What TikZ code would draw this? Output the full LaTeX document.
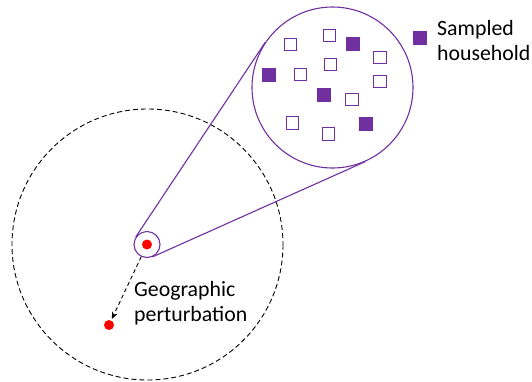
\documentclass[tikz,border=0pt]{standalone}
\usepackage{fontspec}
\setmainfont{Carlito}
\usetikzlibrary{arrows.meta}
\definecolor{purp}{RGB}{112,48,160}
\definecolor{dotred}{RGB}{255,0,0}
\tikzset{
  ring/.style={circle, draw=purp, line width=1.1pt, inner sep=0pt},
  house/.style={draw=purp, line width=1pt, minimum size=12.5pt, inner sep=0pt},
  sampled/.style={fill=purp, minimum size=14pt, inner sep=0pt},
  reddot/.style={circle, fill=dotred, minimum size=10pt, inner sep=0pt},
  label/.style={font=\fontsize{21.8}{25}\selectfont, align=left, inner sep=0pt, anchor=base west},
  tangent/.style={draw=purp, line width=1.1pt}
}
\begin{document}
\begin{tikzpicture}[x=1pt,y=-1pt]
\useasboundingbox (0,0) rectangle (532,381);

% perturbation radius
\draw[dashed, line width=0.9pt, dash pattern=on 5pt off 3pt] (147.5,244.5) circle (135.5);

% original location and magnified area
\node[ring, minimum size=26pt] (small) at (147,244.5) {};
\node[reddot] (orig) at (147,244.5) {};
\node[ring, minimum size=161pt] (big) at (332.5,87.5) {};
\draw[tangent] (small.146) -- (big.146);
\draw[tangent] (small.-66) -- (big.-66);

% households in the area
\node[house] (h1) at (290.7,44.3) {};
\node[house] (h2) at (329.3,35.3) {};
\node[house] (h3) at (380,57.3) {};
\node[house] (h4) at (330.3,64.3) {};
\node[house] (h5) at (300.7,74.3) {};
\node[house] (h6) at (380,81.7) {};
\node[house] (h7) at (352,99.3) {};
\node[house] (h8) at (292.7,123) {};
\node[house] (h9) at (328.7,134) {};
\node[sampled] (s1) at (352.7,44.3) {};
\node[sampled] (s2) at (268.7,74.7) {};
\node[sampled] (s3) at (324,95) {};
\node[sampled] (s4) at (366,124.3) {};

% legend
\node[sampled] (key) at (419.5,37.8) {};
\node[label] (keytext) at (437,60.3) {Sampled\\household};

% displaced location
\node[reddot] (moved) at (109,325) {};
\draw[dashed, line width=0.9pt, dash pattern=on 4pt off 3pt, -{Stealth[length=7pt,width=6pt]}, shorten >=1.5pt] (small) -- (moved);
\node[label] (pert) at (134,321.5) {Geographic\\perturbation};
\end{tikzpicture}
\end{document}
